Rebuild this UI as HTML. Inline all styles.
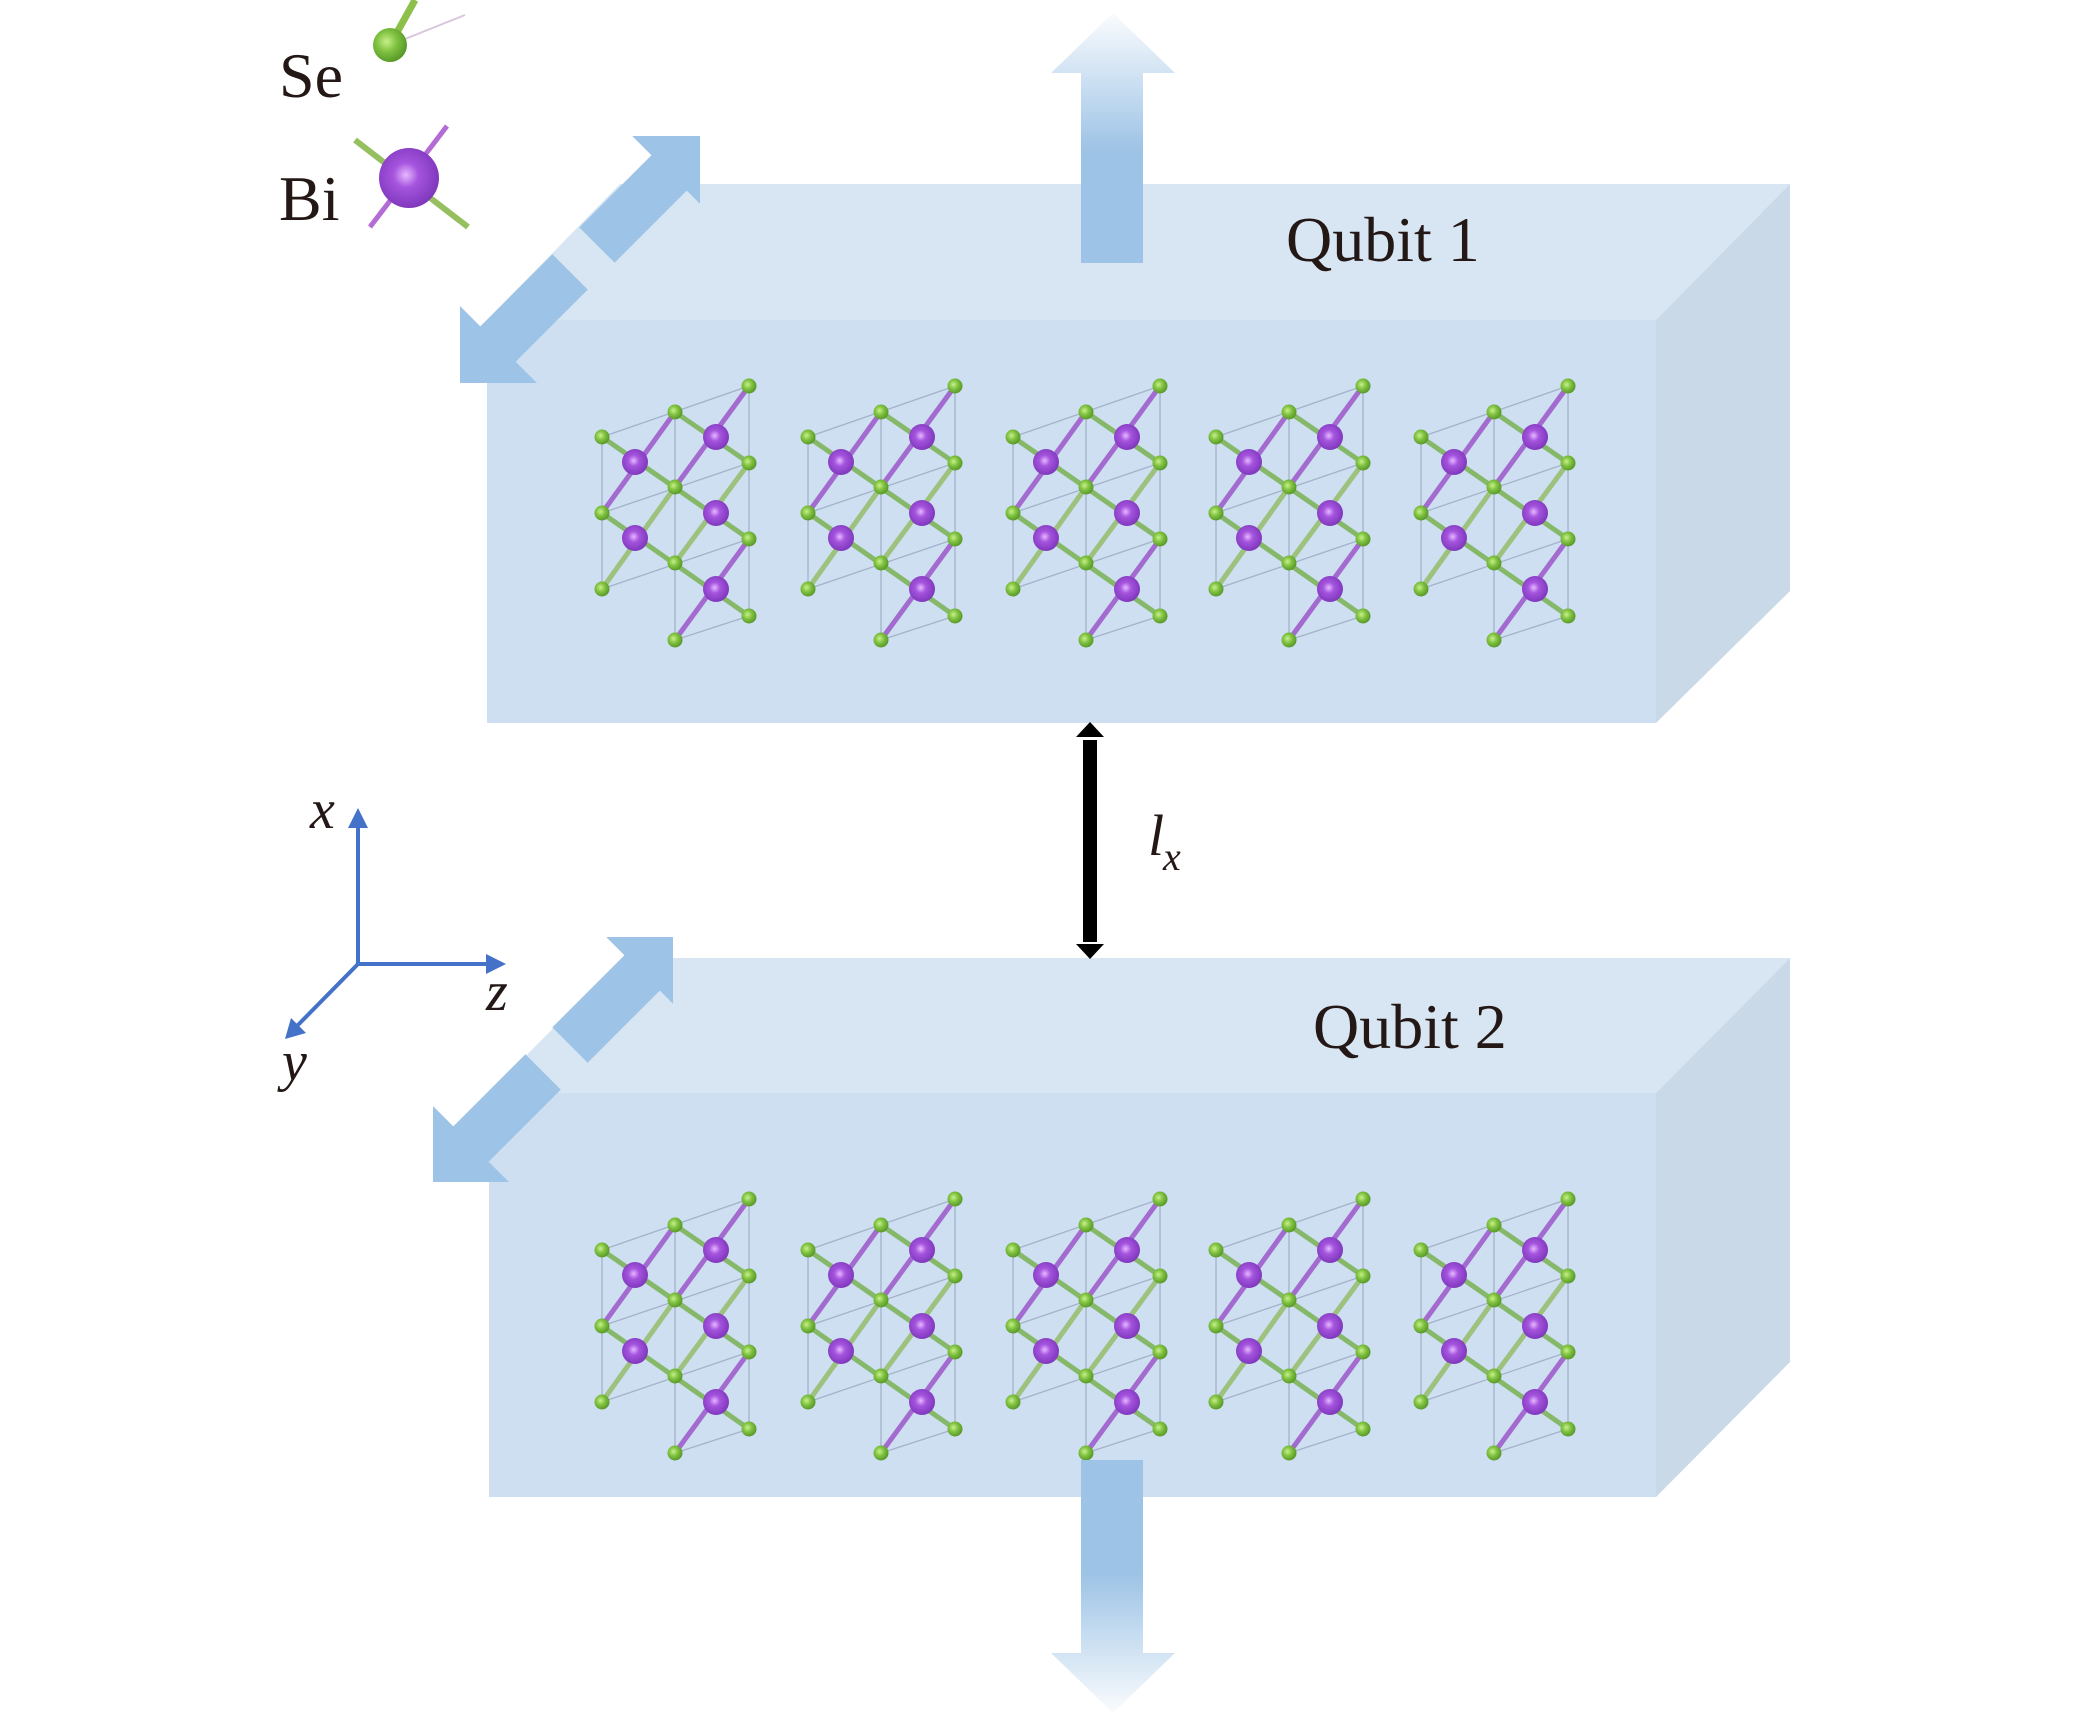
<!DOCTYPE html>
<html><head><meta charset="utf-8"><style>
html,body{margin:0;padding:0;background:#fff;}
svg{display:block;}
text{font-family:"Liberation Serif",serif;fill:#231815;}
</style></head><body>
<svg width="2079" height="1714" viewBox="0 0 2079 1714" xmlns="http://www.w3.org/2000/svg">
<defs>
<radialGradient id="gb" cx="0.45" cy="0.45" r="0.6"><stop offset="0" stop-color="#e6b8ff"/><stop offset="0.35" stop-color="#a554de"/><stop offset="1" stop-color="#7a34b8"/></radialGradient>
<radialGradient id="gg" cx="0.4" cy="0.4" r="0.6"><stop offset="0" stop-color="#c8f08a"/><stop offset="0.5" stop-color="#80c241"/><stop offset="1" stop-color="#5a9a2a"/></radialGradient>
<linearGradient id="upA" x1="0" y1="1" x2="0" y2="0"><stop offset="0" stop-color="#9dc3e6"/><stop offset="0.45" stop-color="#9dc3e6"/><stop offset="1" stop-color="#9dc3e6" stop-opacity="0.05"/></linearGradient>
<linearGradient id="dnA" x1="0" y1="0" x2="0" y2="1"><stop offset="0" stop-color="#9dc3e6"/><stop offset="0.45" stop-color="#9dc3e6"/><stop offset="1" stop-color="#9dc3e6" stop-opacity="0.05"/></linearGradient>
<g id="unit">
  <g stroke="#9aa8c0" stroke-width="1.3" fill="none" opacity="0.8">
    <line x1="0" y1="0" x2="0" y2="152"/><line x1="73" y1="-25" x2="73" y2="203"/><line x1="147" y1="-51" x2="147" y2="179"/>
    <line x1="0" y1="0" x2="147" y2="-51"/><line x1="0" y1="76" x2="147" y2="26"/><line x1="0" y1="152" x2="147" y2="102"/><line x1="73" y1="203" x2="147" y2="179"/>
  </g>
  <g stroke-width="5" stroke-linecap="round">
    <line x1="0" y1="0" x2="147" y2="102" stroke="#86b86a"/>
    <line x1="0" y1="76" x2="147" y2="179" stroke="#86b86a"/>
    <line x1="73" y1="-25" x2="147" y2="26" stroke="#86b86a"/>
    <line x1="0" y1="76" x2="73" y2="-25" stroke="#a36bd0"/>
    <line x1="0" y1="152" x2="73" y2="50" stroke="#9cc27e"/>
    <line x1="73" y1="50" x2="147" y2="-51" stroke="#a36bd0"/>
    <line x1="73" y1="126" x2="147" y2="26" stroke="#9cc27e"/>
    <line x1="73" y1="203" x2="147" y2="102" stroke="#a36bd0"/>
  </g>
  <g fill="url(#gb)">
    <circle cx="33" cy="25" r="13"/><circle cx="33" cy="101" r="13"/>
    <circle cx="114" cy="0" r="13"/><circle cx="114" cy="76" r="13"/><circle cx="114" cy="152" r="13"/>
  </g>
  <g fill="url(#gg)">
    <circle cx="0" cy="0" r="7.5"/><circle cx="0" cy="76" r="7.5"/><circle cx="0" cy="152" r="7.5"/>
    <circle cx="73" cy="-25" r="7.5"/><circle cx="73" cy="50" r="7.5"/><circle cx="73" cy="126" r="7.5"/><circle cx="73" cy="203" r="7.5"/>
    <circle cx="147" cy="-51" r="7.5"/><circle cx="147" cy="26" r="7.5"/><circle cx="147" cy="102" r="7.5"/><circle cx="147" cy="179" r="7.5"/>
  </g>
</g>
<g id="units">
  <use href="#unit" x="602" y="437"/><use href="#unit" x="808" y="437"/><use href="#unit" x="1013" y="437"/><use href="#unit" x="1216" y="437"/><use href="#unit" x="1421" y="437"/>
</g>
<clipPath id="c1"><rect x="460" y="136" width="240" height="247"/></clipPath>
<clipPath id="c2"><rect x="433" y="937" width="240" height="245"/></clipPath>
<polygon id="dbl" points="-190,0 -110,-62 -110,-25 -8,-25 -8,25 -110,25 -110,62"/>
</defs>

<polygon points="487,320 620,184 1790,184 1656,320" fill="#d8e5f2"/>
<polygon points="1656,320 1790,184 1790,591 1656,723" fill="#c9d9e7"/>
<rect x="487" y="320" width="1169" height="403" fill="#cddff0"/>
<polygon points="489,1093 623,958 1790,958 1656,1093" fill="#d8e5f2"/>
<polygon points="1656,1093 1790,958 1790,1362 1656,1497" fill="#c9d9e7"/>
<rect x="489" y="1093" width="1167" height="404" fill="#cddff0"/>

<use href="#units"/>
<use href="#units" y="813"/>

<polygon points="1087,263 1087,73 1057,73 1119,13 1181,73 1149,73 1149,263" fill="url(#upA)" transform="translate(-6,0)"/>
<polygon points="1087,1460 1087,1653 1057,1653 1119,1713 1181,1653 1149,1653 1149,1460" fill="url(#dnA)" transform="translate(-6,0)"/>

<g clip-path="url(#c1)" fill="#9dc3e6">
  <g transform="translate(580,262) rotate(-45)"><use href="#dbl" x="-6"/><use href="#dbl" transform="rotate(180)" x="-16"/></g>
</g>
<g clip-path="url(#c2)" fill="#9dc3e6">
  <g transform="translate(553,1062) rotate(-45)"><use href="#dbl" x="-6"/><use href="#dbl" transform="rotate(180)" x="-16"/></g>
</g>

<rect x="1083" y="740" width="14" height="202" fill="#000"/>
<polygon points="1090,722 1104,737 1076,737" fill="#000"/>
<polygon points="1090,959 1104,944 1076,944" fill="#000"/>
<text x="1148" y="855" font-size="58" font-style="italic">l</text>
<text x="1163" y="870" font-size="40" font-style="italic">x</text>

<g stroke="#4472c8" stroke-width="4" fill="none">
  <line x1="358" y1="966" x2="358" y2="822"/>
  <line x1="356" y1="964" x2="492" y2="964"/>
  <line x1="358" y1="964" x2="296" y2="1027"/>
</g>
<polygon points="358,808 348,828 368,828" fill="#4472c8"/>
<polygon points="506,964 486,954 486,974" fill="#4472c8"/>
<polygon points="285,1039 291,1018 306,1033" fill="#4472c8"/>
<text x="310" y="828" font-size="56" font-style="italic">x</text>
<text x="486" y="1010" font-size="56" font-style="italic">z</text>
<text x="282" y="1080" font-size="56" font-style="italic">y</text>

<text x="1286" y="261" font-size="64">Qubit 1</text>
<text x="1313" y="1048" font-size="64">Qubit 2</text>

<text x="279" y="97" font-size="64">Se</text>
<text x="279" y="220" font-size="64">Bi</text>
<line x1="390" y1="45" x2="415" y2="0" stroke="#8cc04a" stroke-width="7"/>
<line x1="390" y1="45" x2="465" y2="15" stroke="#d7c6dd" stroke-width="2"/>
<circle cx="390" cy="45" r="17" fill="url(#gg)"/>
<line x1="355" y1="140" x2="468" y2="227" stroke="#96c060" stroke-width="6"/>
<line x1="370" y1="227" x2="447" y2="126" stroke="#b36bd6" stroke-width="5"/>
<circle cx="409" cy="178" r="30" fill="url(#gb)"/>
</svg>
</body></html>
